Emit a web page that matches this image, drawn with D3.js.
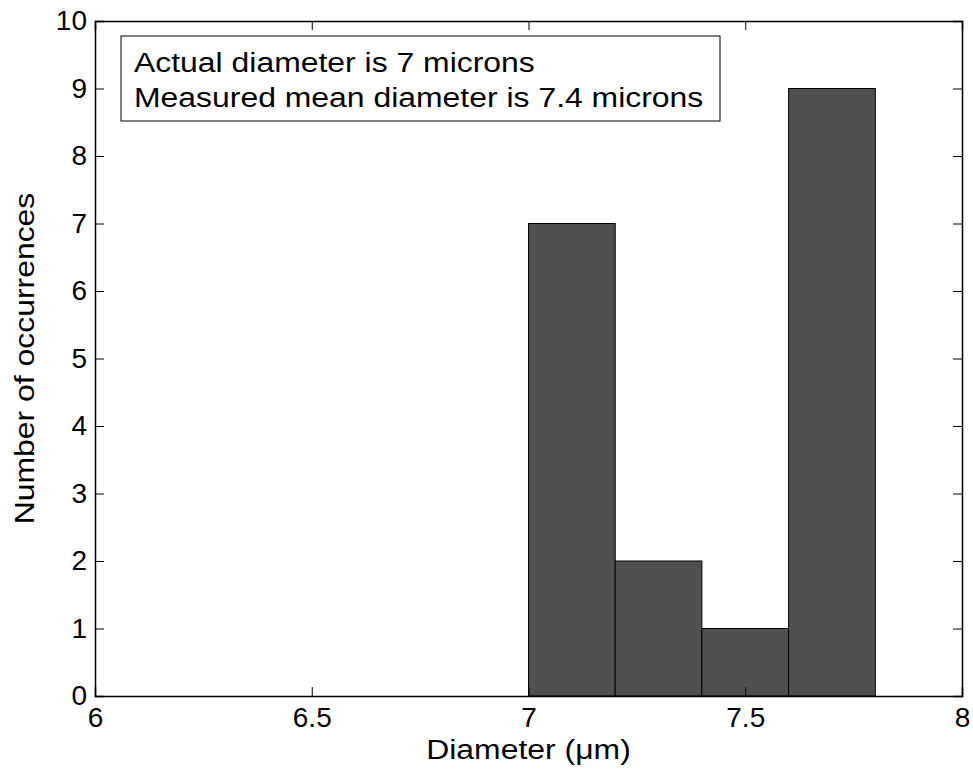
<!DOCTYPE html>
<html>
<head>
<meta charset="utf-8">
<script src="https://cdn.jsdelivr.net/npm/d3@7"></script>
<style>
  body { margin: 0; background: #fff; }
  svg { display: block; font-family: "Liberation Sans", Arial, sans-serif; }
</style>
</head>
<body>
<div id="container"></div>
<script>
// histogram bins (left edge, right edge) and counts
const binStarts = [7.0, 7.2, 7.4, 7.6];
const binEnds = [7.2, 7.4, 7.6, 7.8];
const counts = [7, 2, 1, 9];
const xTicks = [6, 6.5, 7, 7.5, 8];
const yTicks = [0, 1, 2, 3, 4, 5, 6, 7, 8, 9, 10];
const legendLines = ["Actual diameter is 7 microns", "Measured mean diameter is 7.4 microns"];

const width = 973, height = 770;
const margin = { left: 95, right: 11, top: 21, bottom: 74 };

const svg = d3.select("#container")
    .append("svg")
    .attr("width", width)
    .attr("height", height);

const x = d3.scaleLinear().domain([6, 8]).range([margin.left, width - margin.right]);
const y = d3.scaleLinear().domain([0, 10]).range([height - margin.bottom, margin.top]);

const bins = binStarts.map((s, i) => ({ x0: s, x1: binEnds[i], n: counts[i] }));

// bars
svg.append("g")
    .selectAll("rect")
    .data(bins)
    .enter()
    .append("rect")
    .attr("x", d => x(d.x0))
    .attr("y", d => y(d.n))
    .attr("width", d => x(d.x1) - x(d.x0))
    .attr("height", d => y(0) - y(d.n))
    .attr("fill", "#505050")
    .attr("stroke", "#000")
    .attr("stroke-width", 1);

// axes (MATLAB style: inward ticks on all sides)
const tickLen = 9;
const fontSize = 28;
const stretch = 1.14; // the original labels are drawn a bit wider

const bottomAxis = d3.axisBottom(x).tickValues(xTicks).tickSize(-tickLen).tickPadding(11).tickFormat(d3.format("~g"));
const topAxis = d3.axisTop(x).tickValues(xTicks).tickSize(-tickLen).tickFormat("");
const leftAxis = d3.axisLeft(y).tickValues(yTicks).tickSize(-tickLen).tickPadding(8);
const rightAxis = d3.axisRight(y).tickValues(yTicks).tickSize(-tickLen).tickFormat("");

function styleAxis(g) {
    g.select(".domain").attr("stroke", "#000").attr("stroke-width", 1.5);
    g.selectAll(".tick line").attr("stroke", "#000");
    g.selectAll(".tick text")
        .attr("fill", "#000")
        .style("font-size", fontSize + "px")
        .style("font-family", "'Liberation Sans', Arial, sans-serif");
}

svg.append("g").attr("transform", `translate(0,${y(0)})`).call(bottomAxis).call(styleAxis);
svg.append("g").attr("transform", `translate(0,${y(10)})`).call(topAxis).call(styleAxis);
svg.append("g").attr("transform", `translate(${x(6)},0)`).call(leftAxis).call(styleAxis);
svg.append("g").attr("transform", `translate(${x(8)},0)`).call(rightAxis).call(styleAxis);

// axis labels
svg.append("text")
    .attr("transform", `translate(${(x(6) + x(8)) / 2},759) scale(${stretch},1)`)
    .attr("text-anchor", "middle")
    .style("font-size", fontSize + "px")
    .text("Diameter (\u03bcm)");

svg.append("text")
    .attr("transform", `translate(34,${(y(0) + y(10)) / 2}) rotate(-90) scale(${stretch},1)`)
    .attr("text-anchor", "middle")
    .style("font-size", fontSize + "px")
    .text("Number of occurrences");

// text box
const box = svg.append("g");
box.append("rect")
    .attr("x", 121)
    .attr("y", 36)
    .attr("width", 599)
    .attr("height", 85)
    .attr("fill", "#fff")
    .attr("stroke", "#000")
    .attr("stroke-width", 1);

box.selectAll("text")
    .data(legendLines)
    .enter()
    .append("text")
    .attr("transform", (d, i) => `translate(134,${72 + i * 35}) scale(${stretch},1)`)
    .style("font-size", fontSize + "px")
    .text(d => d);
</script>
</body>
</html>
